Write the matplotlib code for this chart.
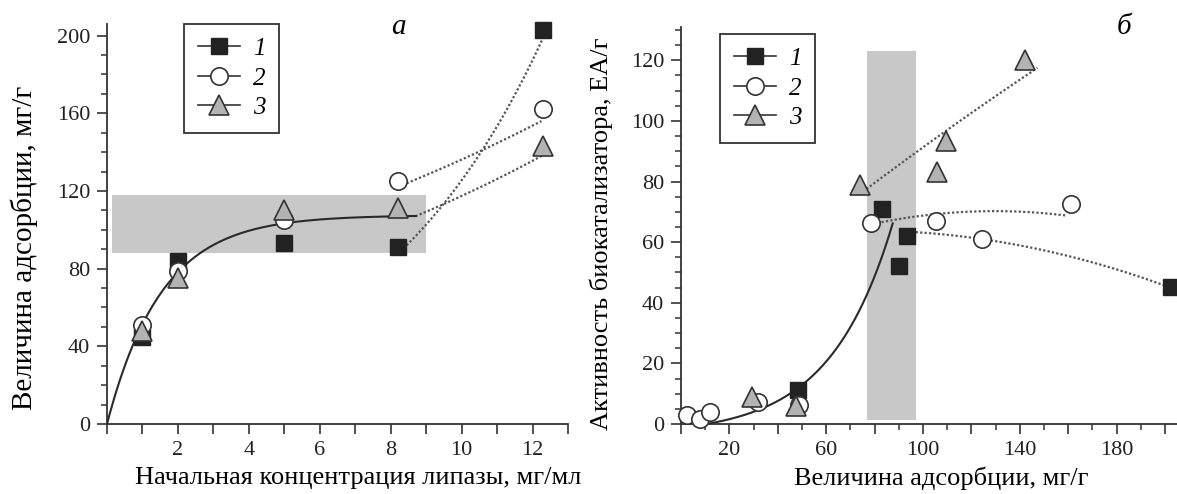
import numpy as np
import matplotlib
matplotlib.use("Agg")
import matplotlib.pyplot as plt
from matplotlib.ticker import MultipleLocator, FuncFormatter

plt.rcParams['font.family'] = ['Liberation Serif', 'DejaVu Serif']

# ---------------- Panel a data ----------------
a_x1 = [1.0, 2.0, 5.0, 8.2, 12.3]
a_y1 = [45, 84, 93, 91, 203]
a_x2 = [1.0, 2.0, 5.0, 8.2, 12.3]
a_y2 = [51, 79, 105, 125, 162]
a_x3 = [1.0, 2.0, 5.0, 8.2, 12.3]
a_y3 = [48, 75, 110, 111, 143]
# saturation fit  y = A (1 - exp(-k x))
a_fit_A = 107.5
a_fit_k = 0.65
a_fit_xmax = 8.7
# dotted (exponential) trends: start and end points
a_dot1 = [(8.45, 92), (12.35, 201)]
a_dot2 = [(8.45, 124), (12.25, 156)]
a_dot3 = [(8.7, 107), (12.3, 138.5)]
a_band_x = [0.15, 9.0]
a_band_y = [88, 118]
a_ticklabels = {2: '2', 4: '4', 6: '6', 8: '8', 10: '10', 12: '12'}

# ---------------- Panel b data ----------------
b_x1 = [48.3, 82.9, 93.4, 89.9, 202.4]
b_y1 = [11.3, 71.0, 62.0, 52.0, 45.2]
b_x2 = [2.4, 7.9, 12.1, 31.8, 48.7, 78.6, 105.3, 124.2, 161.2]
b_y2 = [3.1, 1.8, 3.9, 7.4, 6.4, 66.3, 67.1, 60.9, 72.6]
b_x3 = [29.4, 47.5, 73.9, 106.0, 109.6, 142.1]
b_y3 = [9.0, 5.8, 78.9, 83.0, 93.4, 120.0]
# exponential growth fit  y = a (exp(b (x - x0)) - 1)
b_fit_a = 3.6
b_fit_b = 0.0385
b_fit_x0 = 10.5
b_fit_xmax = 87.5
# dotted quadratic trends through three read points
b_dot1 = [(97.0, 63.3), (124.5, 61.0), (201.6, 45.2)]
b_dot2 = [(82.9, 66.6), (124.5, 70.2), (159.1, 68.8)]
b_dot3 = [(76.6, 77.5), (110.0, 97.0), (147.3, 117.5)]
b_band_x = [77, 97]
b_band_y = [1.3, 123]
b_ticklabels = {20: '20', 60: '60', 100: '100', 140: '140', 180: '180'}

series_labels = ['1', '2', '3']

W, H = 1177, 494
fig = plt.figure(figsize=(W / 100, H / 100), dpi=100)

ax1 = fig.add_axes([107 / W, 1 - 424 / H, (568 - 107) / W, (424 - 24) / H])
ax2 = fig.add_axes([681 / W, 1 - 424 / H, (1177 - 681) / W, (424 - 27) / H])

band_col = '#c8c8c8'
edge = '#333333'
sq = dict(marker='s', ms=11, mfc='#222222', mec='#222222')
ci = dict(marker='o', ms=12.5, mfc='white', mec=edge, mew=1.2)
tr = dict(marker='^', ms=14, mfc='#b3b3b3', mec=edge, mew=1.2)
dot_kw = dict(color='#555555', lw=1.6, ls=(0, (1, 1)), zorder=3)


def exp_between(p0, p1, n=60):
    (x0, y0), (x1, y1) = p0, p1
    xs = np.linspace(x0, x1, n)
    return xs, y0 * (y1 / y0) ** ((xs - x0) / (x1 - x0))


def quad_through(pts, n=80):
    px = [p[0] for p in pts]
    py = [p[1] for p in pts]
    c = np.polyfit(px, py, 2)
    xs = np.linspace(px[0], px[-1], n)
    return xs, np.polyval(c, xs)


# ---------- panel a ----------
ax1.fill_between(a_band_x, a_band_y[0], a_band_y[1], color=band_col, lw=0, zorder=1)
xs = np.linspace(0, a_fit_xmax, 200)
ax1.plot(xs, a_fit_A * (1 - np.exp(-a_fit_k * xs)), color='#2a2a2a', lw=1.5, zorder=4)
for seg in (a_dot1, a_dot2, a_dot3):
    ax1.plot(*exp_between(*seg), **dot_kw)
ax1.plot(a_x1, a_y1, ls='none', zorder=5, clip_on=False, **sq)
ax1.plot(a_x2, a_y2, ls='none', zorder=5, clip_on=False, **ci)
ax1.plot(a_x3, a_y3, ls='none', zorder=5, clip_on=False, **tr)

ax1.set_xlim(0, 13.0)
ax1.set_ylim(0, 206)
ax1.xaxis.set_major_locator(MultipleLocator(1))
ax1.xaxis.set_major_formatter(FuncFormatter(lambda v, p: a_ticklabels.get(int(round(v)), '')))
ax1.yaxis.set_major_locator(MultipleLocator(40))
ax1.yaxis.set_minor_locator(MultipleLocator(10))
ax1.set_xlabel('Начальная концентрация липазы, мг/мл', fontsize=19, labelpad=5)
ax1.set_ylabel('Величина адсорбции, мг/г', fontsize=21, labelpad=14)
ax1.xaxis.label.set_x(0.545)
ax1.yaxis.label.set_y(0.44)
ax1.text((398 - 107) / (568 - 107), 1 - 3 / 400, 'а', transform=ax1.transAxes,
         fontsize=21, style='italic', ha='center', va='center')

# ---------- panel b ----------
ax2.fill_between(b_band_x, b_band_y[0], b_band_y[1], color=band_col, lw=0, zorder=1)
xs = np.linspace(b_fit_x0, b_fit_xmax, 200)
ax2.plot(xs, b_fit_a * (np.exp(b_fit_b * (xs - b_fit_x0)) - 1), color='#2a2a2a', lw=1.5, zorder=4)
for seg in (b_dot1, b_dot2, b_dot3):
    ax2.plot(*quad_through(seg), **dot_kw)
ax2.plot(b_x1, b_y1, ls='none', zorder=5, clip_on=False, **sq)
ax2.plot(b_x2, b_y2, ls='none', zorder=5, clip_on=False, **ci)
ax2.plot(b_x3, b_y3, ls='none', zorder=5, clip_on=False, **tr)

ax2.set_xlim(0, 205)
ax2.set_ylim(0, 131)
ax2.xaxis.set_major_locator(MultipleLocator(20))
ax2.xaxis.set_major_formatter(FuncFormatter(lambda v, p: b_ticklabels.get(int(round(v)), '')))
ax2.xaxis.set_minor_locator(MultipleLocator(10))
ax2.yaxis.set_major_locator(MultipleLocator(20))
ax2.yaxis.set_minor_locator(MultipleLocator(5))
ax2.set_xlabel('Величина адсорбции, мг/г', fontsize=19, labelpad=5)
ax2.set_ylabel('Активность биокатализатора, ЕА/г', fontsize=19, labelpad=13)
ax2.xaxis.label.set_x(0.525)
ax2.yaxis.label.set_y(0.48)
ax2.text((1124 - 681) / (1177 - 681), 1 - 0 / 397, 'б', transform=ax2.transAxes,
         fontsize=21, style='italic', ha='center', va='center')

legend_boxes = {ax1: (184, 24), ax2: (720, 34)}
for ax in (ax1, ax2):
    for s in ('top', 'right'):
        ax.spines[s].set_visible(False)
    for s in ('left', 'bottom'):
        ax.spines[s].set_color(edge)
        ax.spines[s].set_linewidth(1.3)
    ax.tick_params(which='major', direction='out', length=7, width=1.2, color=edge,
                   labelsize=16, labelcolor='#222222', pad=5)
    ax.tick_params(which='minor', direction='out', length=4, width=1.1, color=edge)
    lh = [plt.Line2D([], [], color=edge, lw=1.2, **d) for d in (sq, ci, tr)]
    px, py = legend_boxes[ax]
    leg = ax.legend(lh, series_labels, loc='upper left',
                    bbox_to_anchor=(px / W, 1 - py / H), bbox_transform=fig.transFigure,
                    borderaxespad=0, frameon=True, fancybox=False, edgecolor=edge,
                    handlelength=1.7, framealpha=1,
                    prop=dict(family='Liberation Serif', style='italic', size=18),
                    borderpad=0.55, labelspacing=0.28, handletextpad=0.5)
    leg.get_frame().set_linewidth(1.3)

fig.savefig('out.png', dpi=100)
